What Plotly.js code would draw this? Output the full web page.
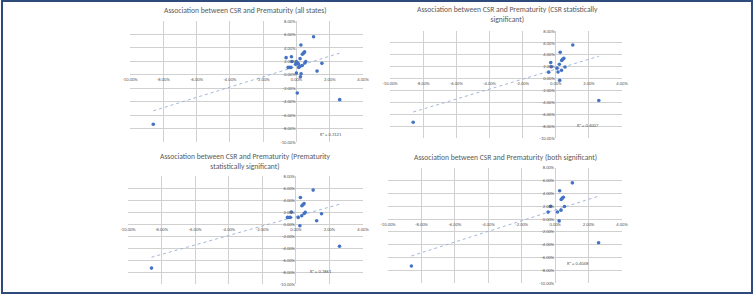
<!DOCTYPE html>
<html><head><meta charset="utf-8">
<script src="https://cdn.plot.ly/plotly-3.0.1.min.js"></script>
<style>
html,body{margin:0;padding:0;background:#fff;overflow:hidden;width:754px;height:295px}
#chart{position:absolute;left:0;top:0;width:754px;height:295px}
#frame{position:absolute;left:1px;top:0;width:748px;height:290px;border:2px solid #2f4b7c;pointer-events:none}
</style></head><body>
<div id="chart"></div><div id="frame"></div>
<script>
// ---- data (percent) ----
const titles = [
  "Association between CSR and Prematurity (all states)",
  "Association between CSR and Prematurity (CSR statistically<br>significant)",
  "Association between CSR and Prematurity (Prematurity<br>statistically significant)",
  "Association between CSR and Prematurity (both significant)"
];
const r2Labels = ["R² = 0.3121", "R² = 0.4007", "R² = 0.3861", "R² = 0.4048"];

// all states
const csrAll = [-8.6, 2.6, 1.03, 0.27, 0.49, 0.42, 0.36, -0.27, 0.56, 0.35, -0.42, 0.14, 0.24,
  -0.3, 0.22, 0.08,
  0.5, 1.53, -0.33, -0.5, 1.24,
  -0.62, -0.05, 0.0, 0.12, 0.22, 0.0, 0.28, 0.05];
const pretAll = [-7.35, -3.7, 5.65, 4.42, 3.4, 3.22, 3.05, 1.98, 1.95, 1.38, 1.08, 1.1, -0.3,
  2.68, 2.4, 1.75,
  1.75, 1.7, 1.1, 1.1, 0.55,
  2.55, 1.55, 1.95, 1.6, 1.25, 0.25, 0.15, -2.72];
// CSR statistically significant
const csrCsrSig = [-8.6, 2.6, 1.03, 0.27, 0.49, 0.42, 0.36, -0.27, 0.56, 0.35, -0.42, 0.14, 0.24, -0.3, 0.22, 0.08];
const pretCsrSig = [-7.35, -3.7, 5.65, 4.42, 3.4, 3.22, 3.05, 1.98, 1.95, 1.38, 1.08, 1.1, -0.3, 2.68, 2.4, 1.75];
// Prematurity statistically significant
const csrPretSig = [-8.6, 2.6, 1.03, 0.27, 0.49, 0.42, 0.36, -0.27, 0.56, 0.35, -0.42, 0.14, 0.24, 0.5, 1.53, -0.33, -0.5, 1.24];
const pretPretSig = [-7.35, -3.7, 5.65, 4.42, 3.4, 3.22, 3.05, 1.98, 1.95, 1.38, 1.08, 1.1, -0.3, 1.75, 1.7, 1.1, 1.1, 0.55];
// both significant
const csrBoth = [-8.6, 2.6, 1.03, 0.27, 0.49, 0.42, 0.36, -0.27, 0.56, 0.35, -0.42, 0.14, 0.24];
const pretBoth = [-7.35, -3.7, 5.65, 4.42, 3.4, 3.22, 3.05, 1.98, 1.95, 1.38, 1.08, 1.1, -0.3];

const xTickVals = [-10, -8, -6, -4, -2, 0, 2, 4];
const xTickText = ["-10.00%", "-8.00%", "-6.00%", "-4.00%", "-2.00%", "0.00%", "2.00%", "4.00%"];
const yTickVals = [-10, -8, -6, -4, -2, 0, 2, 4, 6, 8];
const yTickText = ["-10.00%", "-8.00%", "-6.00%", "-4.00%", "-2.00%", "0.00%", "2.00%", "4.00%", "6.00%", "8.00%"];
const xRange = [-10, 4];
const yRange = [-10, 8];

// ---- layout geometry (pixels) ----
const W = 754, H = 295;
const panels = [
  {x: csrAll, y: pretAll, px: [130, 363], py: [21, 142], title: [245, 11], r2: [2.05, -8.9]},
  {x: csrCsrSig, y: pretCsrSig, px: [390, 622], py: [31, 138], title: [507, 15], r2: [1.95, -7.95]},
  {x: csrPretSig, y: pretPretSig, px: [128, 363], py: [176, 284], title: [245, 161.5], r2: [1.5, -7.9]},
  {x: csrBoth, y: pretBoth, px: [388, 622], py: [167.8, 283], title: [505, 157], r2: [1.37, -7.0]}
];

function linreg(xs, ys) {
  const n = xs.length;
  const mx = xs.reduce((a, b) => a + b, 0) / n;
  const my = ys.reduce((a, b) => a + b, 0) / n;
  let sxy = 0, sxx = 0;
  for (let i = 0; i < n; i++) { sxy += (xs[i] - mx) * (ys[i] - my); sxx += (xs[i] - mx) ** 2; }
  const b = sxy / sxx;
  return {b: b, a: my - b * mx};
}

const font = "Calibri, Carlito, 'Liberation Sans', Arial, sans-serif";
const tickFont = {family: font, size: 4.6, color: '#595959'};
const data = [];
const layout = {
  width: W, height: H, margin: {l: 0, r: 0, t: 0, b: 0},
  paper_bgcolor: '#fff', plot_bgcolor: 'rgba(0,0,0,0)',
  showlegend: false, annotations: []
};

panels.forEach((p, i) => {
  const s = i === 0 ? '' : String(i + 1);
  const xd = [p.px[0] / W, p.px[1] / W];
  const yd = [1 - p.py[1] / H, 1 - p.py[0] / H];
  const x0frac = xd[0] + (0 - xRange[0]) / (xRange[1] - xRange[0]) * (xd[1] - xd[0]);
  const y0frac = yd[0] + (0 - yRange[0]) / (yRange[1] - yRange[0]) * (yd[1] - yd[0]);
  const common = {showline: false, zeroline: false, ticks: '', showgrid: true, gridcolor: '#d0d0d0', gridwidth: 1,
                  tickfont: tickFont, tickmode: 'array', fixedrange: true, anchor: 'free'};
  layout['xaxis' + s] = Object.assign({}, common, {domain: xd, range: xRange, tickvals: xTickVals, ticktext: xTickText,
                                      position: y0frac, ticklabelstandoff: 1});
  layout['yaxis' + s] = Object.assign({}, common, {domain: yd, range: yRange, tickvals: yTickVals, ticktext: yTickText,
                                      position: x0frac, ticklabelstandoff: 1});
  const fit = linreg(p.x, p.y);
  const xmin = Math.min(...p.x), xmax = Math.max(...p.x);
  data.push({type: 'scatter', mode: 'lines', x: [xmin, xmax], y: [fit.a + fit.b * xmin, fit.a + fit.b * xmax],
             xaxis: 'x' + s, yaxis: 'y' + s, line: {color: '#9aaed4', width: 0.9, dash: 'dot'}, hoverinfo: 'skip'});
  data.push({type: 'scatter', mode: 'markers', x: p.x, y: p.y, xaxis: 'x' + s, yaxis: 'y' + s,
             marker: {color: '#4472c4', size: 3.6, symbol: 'circle'}});
  layout.annotations.push({xref: 'paper', yref: 'paper', x: p.title[0] / W, y: 1 - p.title[1] / H,
    xanchor: 'center', yanchor: 'middle', showarrow: false, text: titles[i],
    font: {family: font, size: 7.6, color: '#595959'}});
  layout.annotations.push({xref: 'x' + s, yref: 'y' + s, x: p.r2[0], y: p.r2[1], xanchor: 'center', yanchor: 'middle',
    showarrow: false, text: r2Labels[i], font: {family: font, size: 4.6, color: '#595959'}});
});

Plotly.newPlot('chart', data, layout, {staticPlot: true, displayModeBar: false});
</script>
</body></html>
